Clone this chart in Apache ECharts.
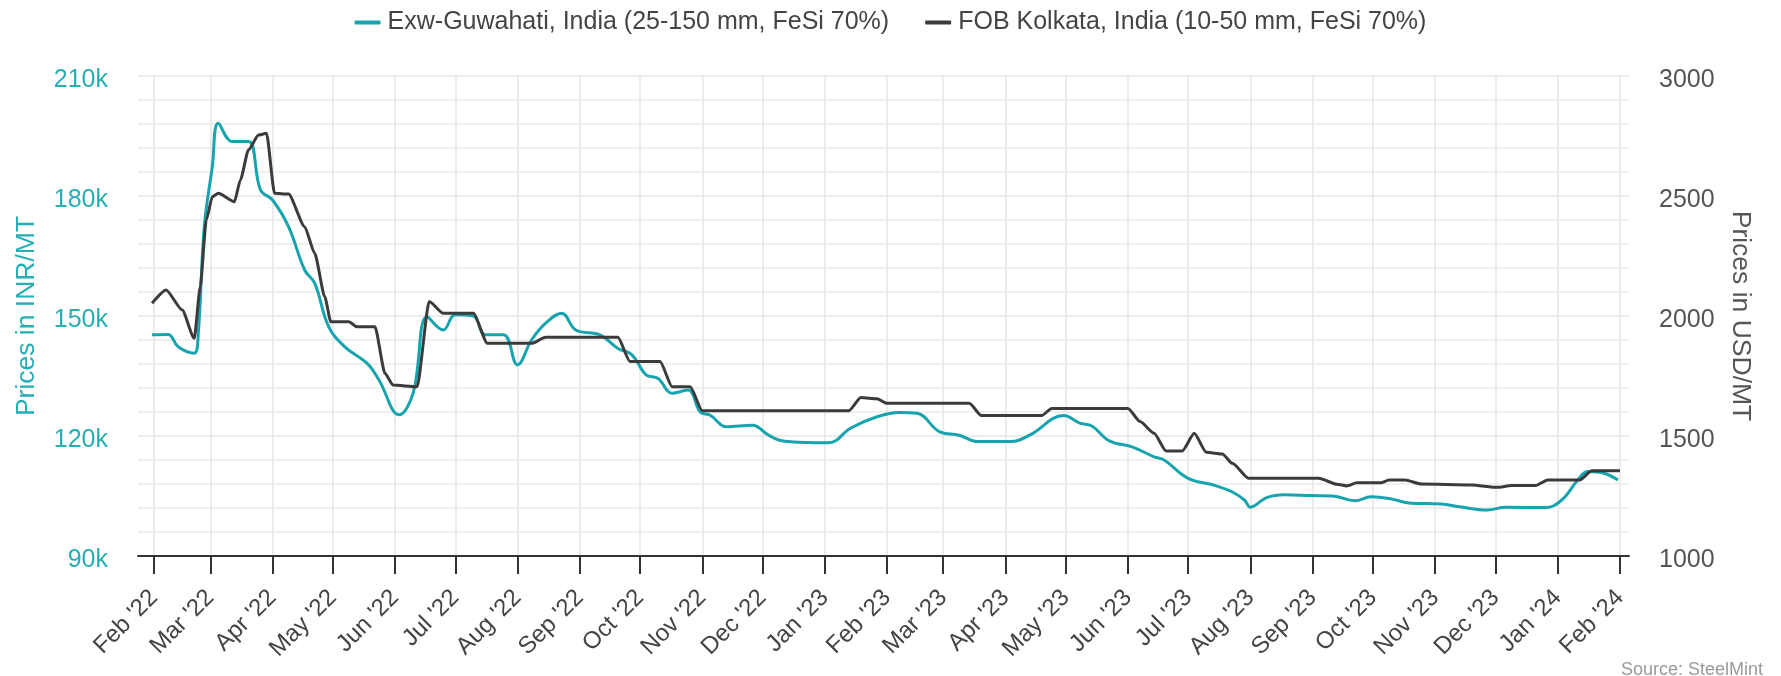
<!DOCTYPE html>
<html>
<head>
<meta charset="utf-8">
<script src="https://cdn.jsdelivr.net/npm/echarts@6/dist/echarts.min.js"></script>
<style>
  html, body { margin: 0; padding: 0; background: #ffffff; }
  #chart { width: 1781px; height: 676px; }
</style>
</head>
<body>
<div id="chart"></div>
<script>
// ---- Data ----
const monthNames = ['Jan','Feb','Mar','Apr','May','Jun','Jul','Aug','Sep','Oct','Nov','Dec'];
const seriesNames = ['Exw-Guwahati, India (25-150 mm, FeSi 70%)', 'FOB Kolkata, India (10-50 mm, FeSi 70%)'];

const guwahatiDates = [
  '2022-01-31','2022-02-08','2022-02-13','2022-02-21','2022-02-23','2022-02-26','2022-03-02','2022-03-05',
  '2022-03-12','2022-03-20','2022-03-26','2022-04-01','2022-04-09','2022-04-17','2022-04-22','2022-04-29',
  '2022-05-07','2022-05-18','2022-05-24','2022-06-03','2022-06-10','2022-06-17','2022-06-25','2022-07-01',
  '2022-07-10','2022-07-16','2022-07-25','2022-08-01','2022-08-08','2022-08-15','2022-08-23','2022-08-30',
  '2022-09-11','2022-09-20','2022-09-27','2022-10-04','2022-10-10','2022-10-17','2022-10-25','2022-10-31',
  '2022-11-05','2022-11-13','2022-11-26','2022-12-04','2022-12-12','2023-01-03','2023-01-14','2023-01-27',
  '2023-02-07','2023-02-16','2023-02-27','2023-03-09','2023-03-18','2023-04-04','2023-04-13','2023-04-30',
  '2023-05-08','2023-05-14','2023-05-23','2023-06-03','2023-06-14','2023-06-19','2023-07-01','2023-07-14',
  '2023-07-23','2023-07-29','2023-08-01','2023-08-09','2023-08-18','2023-08-31','2023-09-11','2023-09-22',
  '2023-09-30','2023-10-09','2023-10-20','2023-11-04','2023-11-13','2023-11-27','2023-12-06','2023-12-26',
  '2024-01-03','2024-01-11','2024-01-16','2024-01-24','2024-01-31'
];
const guwahatiINR = [
  145300,145400,142300,140700,145600,172300,187300,198200,
  193600,193600,181500,179000,172300,161500,158200,147300,
  142300,138200,134000,125300,130700,149800,146500,150300,
  150000,145300,145300,137800,144000,148200,150700,146500,
  145300,141900,140300,135300,134400,130700,131500,126000,
  125200,122300,122700,120200,118700,118300,122000,124800,
  125900,125700,121100,120200,118600,118600,120200,125100,
  123200,122500,118700,117300,114800,114000,109400,107700,
  106000,104000,102200,104600,105300,105100,105000,103800,
  104800,104400,103200,103000,102300,101500,102200,102100,
  104000,109000,111100,110700,109000
];

const kolkataDates = [
  '2022-01-31','2022-02-07','2022-02-15','2022-02-21','2022-02-24','2022-02-27','2022-03-02','2022-03-05',
  '2022-03-13','2022-03-16','2022-03-20','2022-03-25','2022-03-29','2022-04-02','2022-04-09','2022-04-17',
  '2022-04-22','2022-04-27','2022-04-30','2022-05-09','2022-05-13','2022-05-22','2022-05-27','2022-05-31',
  '2022-06-12','2022-06-18','2022-06-25','2022-07-10','2022-07-17','2022-08-08','2022-08-15','2022-09-20',
  '2022-09-26','2022-10-11','2022-10-17','2022-10-26','2022-11-01','2023-01-13','2023-01-19','2023-01-27',
  '2023-02-01','2023-03-14','2023-03-20','2023-04-19','2023-04-24','2023-06-01','2023-06-07','2023-06-14',
  '2023-06-20','2023-06-28','2023-07-04','2023-07-10','2023-07-18','2023-07-23','2023-07-31','2023-09-04',
  '2023-09-13','2023-09-18','2023-09-23','2023-10-05','2023-10-09','2023-10-17','2023-10-25','2023-11-19',
  '2023-12-02','2023-12-09','2023-12-21','2023-12-27','2024-01-12','2024-01-18','2024-02-01'
];
const kolkataUSD = [
  2053,2108,2025,1907,2122,2400,2497,2511,
  2476,2567,2692,2754,2761,2511,2508,2372,
  2261,2080,1976,1976,1955,1955,1761,1712,
  1705,2060,2011,2011,1886,1886,1911,1911,
  1810,1810,1705,1705,1605,1605,1660,1655,
  1636,1636,1585,1585,1615,1615,1560,1511,
  1437,1437,1511,1432,1425,1386,1324,1324,
  1299,1292,1305,1305,1317,1317,1300,1296,
  1286,1294,1294,1317,1317,1355,1355
];

// axis tick values
const leftTicks = [90000, 120000, 150000, 180000, 210000];
const rightTicks = [1000, 1500, 2000, 2500, 3000];

// ---- Styles ----
const TEAL = '#17a4ae';
const TEAL_TEXT = '#27adb5';
const DARK = '#3b3b3b';
const GRID = '#e6e6e6';
const FONT = '"Liberation Sans", Arial, Helvetica, sans-serif';

const chart = echarts.init(document.getElementById('chart'), null, { renderer: 'canvas' });

function fmtMonth(val) {
  const d = new Date(val);
  return monthNames[d.getMonth()] + " '" + String(d.getFullYear()).slice(2);
}

const option = {
  backgroundColor: '#ffffff',
  animation: false,
  textStyle: { fontFamily: FONT },
  legend: {
    top: 5,
    left: 'center',
    itemGap: 36,
    itemWidth: 26,
    itemHeight: 4,
    icon: 'roundRect',
    textStyle: { fontSize: 25, color: '#444', fontFamily: FONT, padding: [0, 0, 0, 2] },
    data: seriesNames
  },
  grid: { left: 138, right: 152, top: 76, bottom: 120, containLabel: false },
  xAxis: {
    type: 'time',
    min: new Date(2022, 0, 24).getTime(),
    max: new Date(2024, 1, 5, 12).getTime(),
    splitNumber: 25,
    minInterval: 28 * 86400000,
    maxInterval: 31 * 86400000,
    axisLine: { show: true, lineStyle: { color: '#333', width: 2 } },
    axisTick: { show: true, length: 18, lineStyle: { color: '#333', width: 2 } },
    splitLine: { show: true, showMinLine: false, showMaxLine: false, lineStyle: { color: GRID, width: 1.5 } },
    axisLabel: {
      rotate: 45,
      margin: 38,
      fontSize: 24,
      color: '#444',
      fontFamily: FONT,
      showMinLabel: false,
      showMaxLabel: false,
      hideOverlap: false,
      formatter: fmtMonth
    }
  },
  yAxis: [
    {
      type: 'value',
      position: 'left',
      min: leftTicks[0],
      max: leftTicks[leftTicks.length - 1],
      interval: leftTicks[1] - leftTicks[0],
      name: 'Prices in INR/MT',
      nameLocation: 'middle',
      nameRotate: 90,
      nameGap: 98,
      nameTextStyle: { color: TEAL_TEXT, fontSize: 26.5, fontFamily: FONT },
      axisLine: { show: false },
      axisTick: { show: false },
      axisLabel: {
        color: TEAL_TEXT, fontSize: 25, margin: 30, fontFamily: FONT,
        verticalAlign: 'top', lineHeight: 9,
        formatter: function (v) { return (v / 1000) + 'k'; }
      },
      splitLine: { show: true, lineStyle: { color: GRID, width: 1.5 } },
      minorTick: { show: false, splitNumber: 5 },
      minorSplitLine: { show: true, lineStyle: { color: '#ececec', width: 1.5 } }
    },
    {
      type: 'value',
      position: 'right',
      min: rightTicks[0],
      max: rightTicks[rightTicks.length - 1],
      interval: rightTicks[1] - rightTicks[0],
      name: 'Prices in USD/MT',
      nameLocation: 'middle',
      nameRotate: -90,
      nameGap: 98,
      nameTextStyle: { color: '#555', fontSize: 26.5, fontFamily: FONT },
      axisLine: { show: false },
      axisTick: { show: false },
      axisLabel: {
        color: '#555', fontSize: 25, margin: 30, fontFamily: FONT,
        verticalAlign: 'top', lineHeight: 9,
        formatter: function (v) { return String(v); }
      },
      splitLine: { show: false }
    }
  ],
  graphic: [
    {
      type: 'text',
      right: 18,
      bottom: -3,
      style: { text: 'Source: SteelMint', fill: '#999', font: '18px ' + FONT }
    }
  ],
  series: [
    {
      name: seriesNames[0],
      type: 'line',
      yAxisIndex: 0,
      showSymbol: false,
      symbol: 'none',
      smooth: 0.4,
      color: TEAL,
      lineStyle: { color: TEAL, width: 3 },
      data: guwahatiDates.map(function (d, i) { return [d, guwahatiINR[i]]; })
    },
    {
      name: seriesNames[1],
      type: 'line',
      yAxisIndex: 1,
      showSymbol: false,
      symbol: 'none',
      smooth: 0.2,
      smoothMonotone: 'x',
      color: DARK,
      lineStyle: { color: DARK, width: 3 },
      data: kolkataDates.map(function (d, i) { return [d, kolkataUSD[i]]; })
    }
  ]
};

chart.setOption(option);
</script>
</body>
</html>
